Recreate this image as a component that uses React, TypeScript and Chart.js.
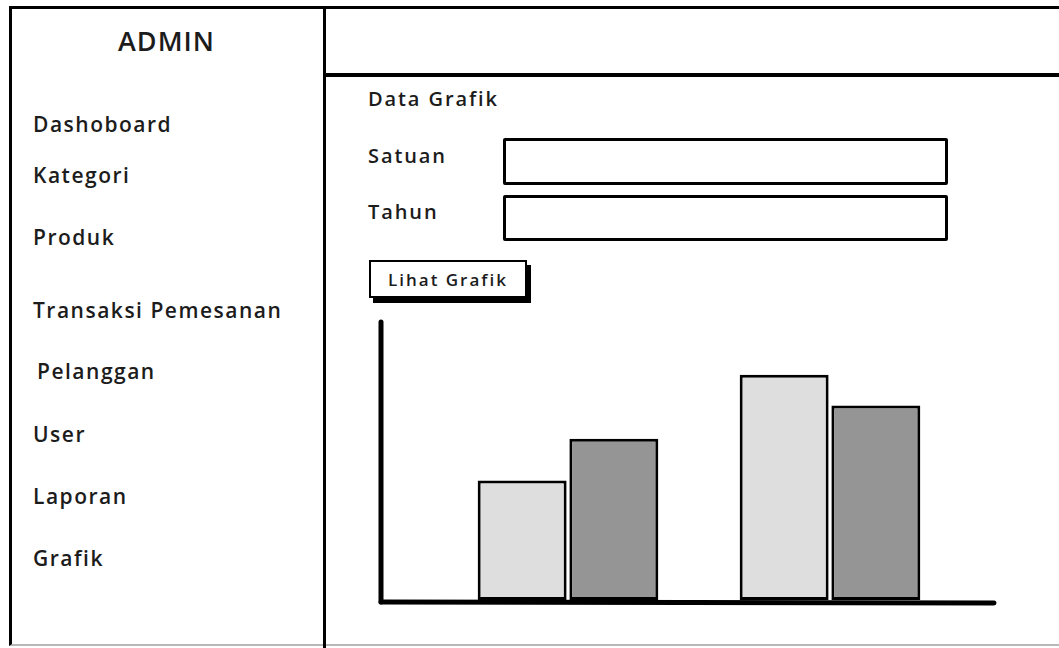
import React, { useEffect, useRef } from "react";
import { Chart, registerables } from "chart.js";

Chart.register(...registerables);

const categories = ["Grup 1", "Grup 2"];
const seriesNames = ["Seri 1", "Seri 2"];
const seriesLight = [43, 81];
const seriesDark = [58, 70];
const yMax = 100;

const menuItems = [
  { label: "Dashoboard", y: 126, x: 33 },
  { label: "Kategori", y: 177, x: 33 },
  { label: "Produk", y: 239, x: 33 },
  { label: "Transaksi Pemesanan", y: 312, x: 33 },
  { label: "Pelanggan", y: 373, x: 37 },
  { label: "User", y: 436, x: 33 },
  { label: "Laporan", y: 498, x: 33 },
  { label: "Grafik", y: 560, x: 33 },
];

const FONT = "'Open Sans', 'DejaVu Sans', sans-serif";
const INK = "#1c1c1c";

const sketchAxes = {
  id: "sketchAxes",
  afterDatasetsDraw(chart: any) {
    const { ctx, chartArea } = chart;
    const axisX = chartArea.left - 56;
    const axisY = chartArea.bottom + 2;
    ctx.save();
    ctx.strokeStyle = "#000";
    ctx.lineWidth = 5;
    ctx.lineCap = "round";
    ctx.beginPath();
    ctx.moveTo(axisX, chartArea.top);
    ctx.lineTo(axisX, axisY);
    ctx.stroke();
    ctx.beginPath();
    ctx.moveTo(axisX, axisY);
    ctx.lineTo(chartArea.right + 33, axisY + 1);
    ctx.stroke();
    ctx.restore();
  },
};

function BarChart() {
  const ref = useRef<HTMLCanvasElement | null>(null);
  useEffect(() => {
    if (!ref.current) return;
    const chart = new Chart(ref.current, {
      type: "bar",
      data: {
        labels: categories,
        datasets: [
          {
            label: seriesNames[0],
            data: seriesLight,
            backgroundColor: "#dedede",
            borderColor: "#000",
            borderWidth: 3,
            borderSkipped: false,
            barPercentage: 0.97,
            categoryPercentage: 0.7,
          },
          {
            label: seriesNames[1],
            data: seriesDark,
            backgroundColor: "#959595",
            borderColor: "#000",
            borderWidth: 3,
            borderSkipped: false,
            barPercentage: 0.97,
            categoryPercentage: 0.7,
          },
        ],
      },
      options: {
        responsive: false,
        animation: false,
        layout: { padding: { left: 97, right: 79, top: 22, bottom: 30 } },
        plugins: { legend: { display: false }, tooltip: { enabled: false } },
        scales: {
          x: { display: false },
          y: { display: false, min: 0, max: yMax },
        },
      },
      plugins: [sketchAxes],
    });
    return () => chart.destroy();
  }, []);
  return (
    <canvas
      ref={ref}
      width={700}
      height={330}
      style={{ position: "absolute", left: 340, top: 300, width: 700, height: 330 }}
    />
  );
}

const abs = (s: React.CSSProperties): React.CSSProperties => ({ position: "absolute", ...s });

export default function App() {
  const textBase: React.CSSProperties = {
    fontFamily: FONT,
    color: INK,
    whiteSpace: "nowrap",
    lineHeight: "1",
    fontWeight: 600,
  };
  return (
    <div
      style={{
        position: "absolute",
        left: 0,
        top: 0,
        width: 1059,
        height: 648,
        overflow: "hidden",
        background: "#fff",
      }}
    >
      {/* outer frame */}
      <div style={abs({ left: 9, top: 6, width: 1059, height: 635, borderLeft: "3px solid #000", borderTop: "3px solid #000", borderBottom: "2px solid #b8b8b8" })} />
      {/* sidebar divider */}
      <div style={abs({ left: 323, top: 6, width: 3, height: 642, background: "#000" })} />
      {/* header divider */}
      <div style={abs({ left: 323, top: 73, width: 740, height: 4, background: "#000" })} />

      <div style={abs({ ...textBase, left: 118, top: 27, fontSize: 27, letterSpacing: 1 })}>ADMIN</div>

      {menuItems.map((m) => (
        <div key={m.label} style={abs({ ...textBase, left: m.x, top: m.y - 12, fontSize: 21, letterSpacing: 1.5 })}>
          {m.label}
        </div>
      ))}

      <div style={abs({ ...textBase, left: 368, top: 89, fontSize: 20, letterSpacing: 1.9 })}>Data Grafik</div>
      <div style={abs({ ...textBase, left: 368, top: 146, fontSize: 20, letterSpacing: 1.9 })}>Satuan</div>
      <div style={abs({ ...textBase, left: 368, top: 202, fontSize: 20, letterSpacing: 1.9 })}>Tahun</div>

      <div style={abs({ left: 503, top: 138, width: 439, height: 41, border: "3px solid #000", borderRadius: 2 })} />
      <div style={abs({ left: 503, top: 195, width: 439, height: 40, border: "3px solid #000", borderRadius: 2 })} />

      <div
        style={abs({
          left: 369,
          top: 260,
          width: 154,
          height: 34,
          border: "2px solid #000",
          boxShadow: "4px 5px 0 #000",
          background: "#fff",
        })}
      />
      <div style={abs({ ...textBase, left: 388, top: 271, fontSize: 17, letterSpacing: 2 })}>Lihat Grafik</div>

      <BarChart />
    </div>
  );
}
